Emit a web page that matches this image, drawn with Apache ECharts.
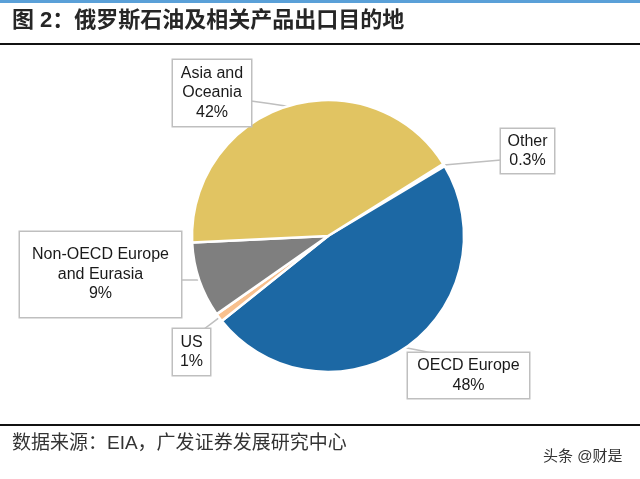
<!DOCTYPE html>
<html>
<head>
<meta charset="utf-8">
<style>
    html, body { margin: 0; padding: 0; background: #fff; }
    #chart { width: 640px; height: 479px; }
</style>
<script src="https://cdn.jsdelivr.net/npm/echarts@6/dist/echarts.min.js"></script>
</head>
<body>
<div id="chart"></div>
<script>
    // 数据
    var names = ['Other', 'OECD Europe', 'US', 'Non-OECD Europe\nand Eurasia', 'Asia and\nOceania'];
    var values = [0.3, 48, 1, 9, 42];
    var pctLabels = ['0.3%', '48%', '1%', '9%', '42%'];
    var colors = ['#ffffff', '#1c68a4', '#f8c08e', '#7f7f7f', '#e1c462'];

    // 标签框位置 [left, top, right, bottom] 与连线终点
    var boxes = [
        [501, 129, 554, 173],
        [408, 353, 529, 398],
        [173, 329, 210, 375],
        [20, 232, 181, 317],
        [173, 60, 251, 126]
    ];
    var lineEnds = [
        [501, 160],
        [432, 353],
        [204, 329],
        [181, 280],
        [251, 101]
    ];

    var chart = echarts.init(document.getElementById('chart'));

    var seriesData = [];
    for (var i = 0; i < names.length; i++) {
        seriesData.push({
            name: names[i],
            value: values[i],
            itemStyle: { color: colors[i] }
        });
    }

    var option = {
        animation: false,
        graphic: [
            { type: 'rect', shape: { x: 0, y: 0, width: 640, height: 3 }, style: { fill: '#5aa0d8' } },
            {
                type: 'text', left: 12, top: 10,
                style: {
                    text: '图 2：俄罗斯石油及相关产品出口目的地',
                    font: 'bold 22px "Liberation Sans", "Noto Sans CJK SC"',
                    fill: '#262626'
                }
            },
            { type: 'rect', shape: { x: 0, y: 43, width: 640, height: 2 }, style: { fill: '#111' } },
            { type: 'rect', shape: { x: 0, y: 424, width: 640, height: 2 }, style: { fill: '#111' } },
            {
                type: 'text', left: 12, top: 434,
                style: {
                    text: '数据来源：EIA，广发证券发展研究中心',
                    font: '19px "Liberation Sans", "Noto Sans CJK SC"',
                    fill: '#333'
                }
            },
            {
                type: 'text', left: 543, top: 449,
                style: {
                    text: '头条 @财是',
                    font: '15px "Liberation Sans", "Noto Sans CJK SC"',
                    fill: '#333'
                }
            }
        ],
        series: [{
            type: 'pie',
            center: [328, 236],
            radius: [0, 136],
            startAngle: 32,
            clockwise: true,
            data: seriesData,
            itemStyle: { borderColor: '#fff', borderWidth: 2.5 },
            label: {
                show: true,
                position: 'outside',
                formatter: function (p) {
                    return p.name + '\n' + pctLabels[p.dataIndex];
                },
                fontFamily: '"Liberation Sans", Arial, sans-serif',
                fontSize: 16,
                lineHeight: 19.5,
                color: '#1a1a1a',
                align: 'center',
                backgroundColor: '#fff',
                borderColor: '#bfbfbf',
                borderWidth: 1.5
            },
            labelLine: {
                show: true,
                lineStyle: { color: '#bfbfbf', width: 1.5 }
            },
            labelLayout: function (params) {
                var b = boxes[params.dataIndex];
                var e = lineEnds[params.dataIndex];
                var p0 = params.labelLinePoints ? params.labelLinePoints[0] : e;
                return {
                    x: (b[0] + b[2]) / 2,
                    y: (b[1] + b[3]) / 2,
                    align: 'center',
                    verticalAlign: 'middle',
                    width: b[2] - b[0],
                    height: b[3] - b[1],
                    labelLinePoints: [p0, [(p0[0] + e[0]) / 2, (p0[1] + e[1]) / 2], e]
                };
            }
        }]
    };

    chart.setOption(option);
</script>
</body>
</html>
